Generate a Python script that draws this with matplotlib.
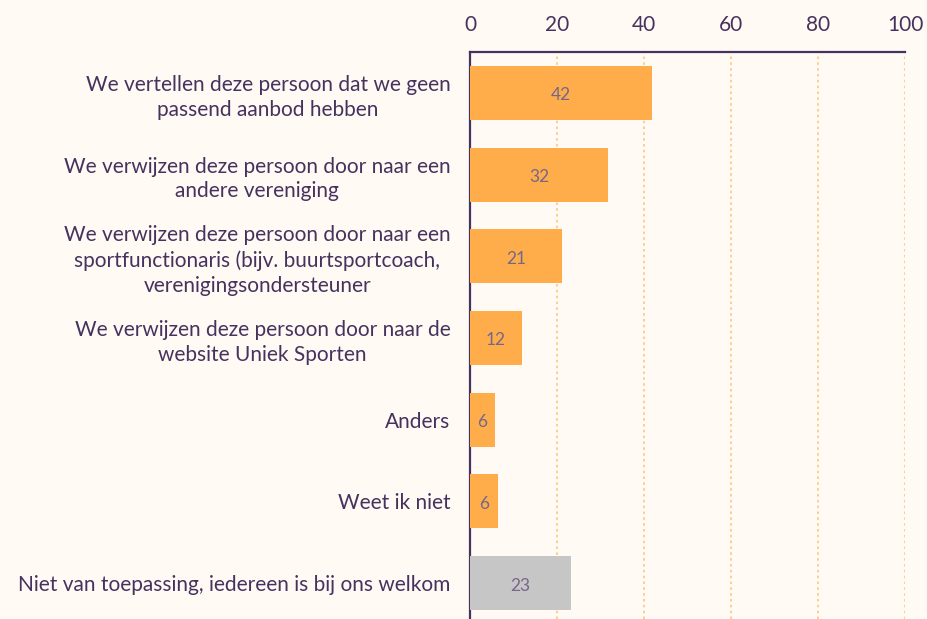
import matplotlib
matplotlib.use("Agg")
import matplotlib.pyplot as plt

categories = [
    "We vertellen deze persoon dat we geen\npassend aanbod hebben",
    "We verwijzen deze persoon door naar een\nandere vereniging",
    "We verwijzen deze persoon door naar een\nsportfunctionaris (bijv. buurtsportcoach,\nverenigingsondersteuner",
    "We verwijzen deze persoon door naar de\nwebsite Uniek Sporten",
    "Anders",
    "Weet ik niet",
    "Niet van toepassing, iedereen is bij ons welkom",
]
values = [41.8, 31.8, 21.2, 11.9, 5.8, 6.4, 23.2]
labels = ["42", "32", "21", "12", "6", "6", "23"]
ticks = [0, 20, 40, 60, 80, 100]

BG = "#fffaf3"
ORANGE = "#ffad4a"
GREY = "#c6c6c6"
PURPLE = "#46325f"
colors = [ORANGE] * 6 + [GREY]

plt.rcParams["font.family"] = ["Lato", "DejaVu Sans"]

fig = plt.figure(figsize=(9.27, 6.19), dpi=100, facecolor=BG)
W, H = 927, 619
left, right, top, bottom = 470, 905, 52, 619
ax = fig.add_axes([left / W, 1 - bottom / H, (right - left) / W, (bottom - top) / H])
ax.set_facecolor(BG)

y = list(range(len(categories)))
ax.barh(y, values, height=0.66, color=colors, zorder=3)
for yi, v, lab in zip(y, values, labels):
    ax.text(v / 2, yi + 0.03, lab, ha="center", va="center", fontsize=12.5,
            color="#76668a", fontweight="normal", zorder=4)

ax.set_xlim(0, 100)
ax.set_ylim(6.44, -0.5)
ax.set_xticks(ticks)
ax.set_xticklabels([str(t) for t in ticks])
ax.xaxis.tick_top()
ax.tick_params(axis="x", length=0, pad=12, labelsize=15, labelcolor=PURPLE)
ax.set_yticks(y)
ax.set_yticklabels(categories, fontsize=15, color=PURPLE, linespacing=1.3)
for lbl in ax.get_yticklabels():
    lbl.set_multialignment("center")
ax.tick_params(axis="y", length=0, pad=14)

for t in ticks[1:]:
    ax.axvline(t, color="#ffc47f", linestyle=(0, (1.5, 2)), linewidth=1.2, zorder=1)

for s in ["right", "bottom"]:
    ax.spines[s].set_visible(False)
ax.spines["top"].set_color(PURPLE)
ax.spines["left"].set_color(PURPLE)
ax.spines["top"].set_linewidth(1.6)
ax.spines["left"].set_linewidth(1.6)

fig.savefig("out.png", dpi=100, facecolor=BG)
